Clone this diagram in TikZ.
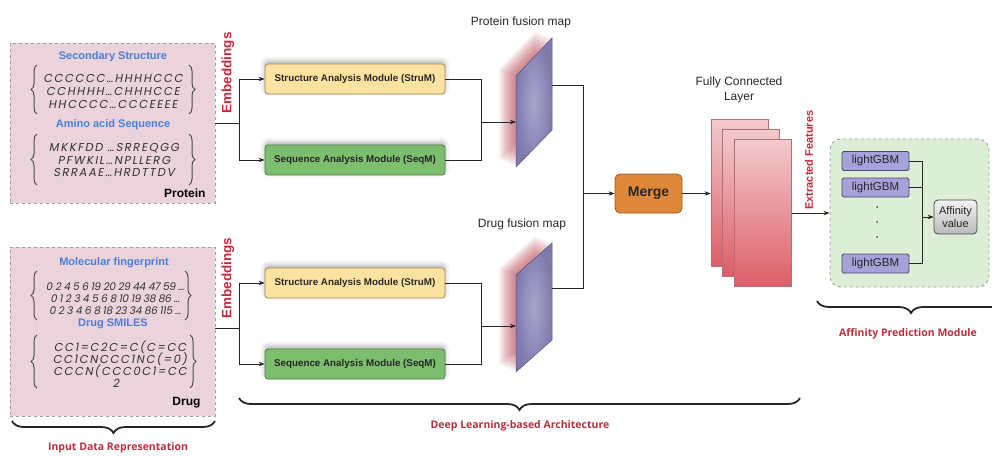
\documentclass[tikz,border=0pt]{standalone}
\usepackage{fontspec}
\setmainfont{Liberation Sans}
\newfontfamily\osans{Open Sans}
\newfontfamily\seqA[FakeSlant=0.18,LetterSpace=14]{Poppins}
\newfontfamily\seqB[FakeSlant=0.18,LetterSpace=-3]{Poppins}
\usetikzlibrary{arrows.meta,decorations.pathreplacing,shadows.blur}
\definecolor{inpink}{HTML}{EAD3DB}
\definecolor{blueT}{HTML}{4A80D6}
\definecolor{redT}{HTML}{C8283A}
\definecolor{redL}{HTML}{B8303C}
\definecolor{yelF}{HTML}{FBE2A0}
\definecolor{yelD}{HTML}{9C8A5A}
\definecolor{grnF}{HTML}{7DBE6E}
\definecolor{grnD}{HTML}{4E7F48}
\definecolor{mrgF}{HTML}{E0883A}
\definecolor{mrgD}{HTML}{9A5A22}
\definecolor{mapIn}{HTML}{A9A5CC}
\definecolor{mapOut}{HTML}{7F7AAE}
\definecolor{glowR}{HTML}{B03040}
\definecolor{fcTop}{HTML}{F2CACD}
\definecolor{fcBot}{HTML}{DC5E68}
\definecolor{fcD}{HTML}{B07078}
\definecolor{lgF}{HTML}{A7A1D9}
\definecolor{lgD}{HTML}{4A4A6E}
\definecolor{gbF}{HTML}{DDEED6}
\begin{document}
\begin{tikzpicture}[x=1pt,y=-1pt,
  inbox/.style={draw=gray!75, dashed, fill=inpink, line width=0.9pt, inner sep=0pt},
  modbox/.style={rounded corners=3pt, line width=0.8pt, minimum width=180pt, minimum height=30pt,
     font=\fontsize{9.8}{11}\selectfont\bfseries, text=black!85,
     blur shadow={shadow xshift=0pt, shadow yshift=3pt, shadow blur radius=5pt, shadow opacity=30}},
  strum/.style={modbox, draw=yelD, fill=yelF},
  seqm/.style={modbox, draw=grnD, fill=grnF},
  conn/.style={line width=0.9pt, black!85},
  arr/.style={conn, -{Stealth[length=6pt,width=4.5pt]}},
  bhead/.style={text=blueT, font=\fontsize{11}{13}\selectfont\bfseries},
  seqtxt/.style={font=\fontsize{11.5}{13}\selectfont\seqA, text=black!80},
  fptxt/.style={font=\fontsize{10.5}{12}\selectfont\seqB, text=black!80},
  emb/.style={rotate=90, text=redT, font=\fontsize{13.5}{15}\selectfont\bfseries},
  brlabel/.style={text=redL, font=\fontsize{10.5}{12}\selectfont\osans\bfseries},
  bigbrace/.style={decorate, decoration={brace, amplitude=12pt}, line width=1.8pt, black!85},
  smbrace/.style={decorate, decoration={brace, amplitude=6pt}, line width=1pt, black!70},
  fcl/.style={draw=fcD, line width=0.7pt, top color=fcTop, bottom color=fcBot, minimum width=57pt, minimum height=147pt},
  lgb/.style={draw=lgD, fill=lgF, rounded corners=1.5pt, line width=0.8pt, minimum width=67pt, minimum height=19pt, font=\fontsize{11.5}{12}\selectfont, text=black!85},
  maplab/.style={font=\fontsize{12}{14}\selectfont, text=black!85}
]
\useasboundingbox (0,0) rectangle (992,455);

% ---------------- input boxes ----------------
\node[inbox, minimum width=205pt, minimum height=160pt] (prot) at (112.5,123) {};
\node[inbox, minimum width=205pt, minimum height=169pt] (drug) at (112.5,331.5) {};

\node[bhead] (ss) at (113,57) {Secondary Structure};
\node[seqtxt] (p1) at (113,78) {CCCCCC…HHHHCCC};
\node[seqtxt] (p2) at (113,91) {CCHHHH…CHHHCCE};
\node[seqtxt] (p3) at (113,104) {HHCCCC…CCCEEEE};
\draw[smbrace] (37,114) -- (37,65);
\draw[smbrace] (189,65) -- (189,114);
\node[bhead] (aa) at (113,125) {Amino acid Sequence};
\node[seqtxt] (p4) at (114,148) {MKKFDD …SRREQGG};
\node[seqtxt] (p5) at (114,160) {PFWKIL…NPLLERG};
\node[seqtxt] (p6) at (114,172) {SRRAAE…HRDTTDV};
\draw[smbrace] (37,185) -- (37,134);
\draw[smbrace] (189,134) -- (189,185);
\node[font=\fontsize{12}{14}\selectfont\bfseries, anchor=east] (plab) at (209,193) {Protein};

\node[bhead] (mf) at (114,263) {Molecular fingerprint};
\node[fptxt] (d1) at (115,287) {0 2 4 5 6 19 20 29 44 47 59 …};
\node[fptxt] (d2) at (115,299) {0 1 2 3 4 5 6 8 10 19 38 86 …};
\node[fptxt] (d3) at (115,311) {0 2 3 4 6 8 18 23 34 86 115 …};
\draw[smbrace] (37,320) -- (37,271);
\draw[smbrace] (185,271) -- (185,320);
\node[bhead] (sm) at (113,324) {Drug SMILES};
\node[seqtxt] (d4) at (120,347) {CC1=C2C=C(C=CC};
\node[seqtxt] (d5) at (120,359) {CC1CNCCC1NC(=0)};
\node[seqtxt] (d6) at (120,371) {CCCN(CCC0C1=CC};
\node[seqtxt] (d7) at (116,383) {2};
\draw[smbrace] (37,388) -- (37,335);
\draw[smbrace] (190,335) -- (190,388);
\node[font=\fontsize{12}{14}\selectfont\bfseries, anchor=east] (dlab) at (204,403) {Drug};

\node[emb] (emb1) at (228,73) {Embeddings};
\node[emb] (emb2) at (228,278) {Embeddings};

% ---------------- modules ----------------
\node[strum] (s1) at (355,79) {Structure Analysis Module (StruM)};
\node[seqm]  (q1) at (355,160) {Sequence Analysis Module (SeqM)};
\node[strum] (s2) at (355,283) {Structure Analysis Module (StruM)};
\node[seqm]  (q2) at (355,364) {Sequence Analysis Module (SeqM)};

\coordinate (pf) at (239,123);
\coordinate (df) at (239,328);
\draw[conn] (prot.east) -- (pf);
\draw[arr] (pf) |- (s1.west);
\draw[arr] (pf) |- (q1.west);
\draw[conn] (drug.east |- df) -- (df);
\draw[arr] (df) |- (s2.west);
\draw[arr] (df) |- (q2.west);

% ---------------- fusion maps ----------------
\foreach \i in {1,...,14}{
  \fill[glowR, opacity=0.06, xshift=-1.2*\i pt, yshift=0.5*\i pt]
     (516,76) -- (552,38) -- (552,130) -- (516,167) -- cycle;
  \fill[glowR, opacity=0.06, xshift=-1.2*\i pt, yshift=0.5*\i pt]
     (516,275) -- (552,243) -- (552,340) -- (516,372) -- cycle;
}
\shade[inner color=mapIn, outer color=mapOut, draw=mapOut!70!black, line width=0.5pt]
   (516,76) -- (552,38) -- (552,130) -- (516,167) -- cycle;
\shade[inner color=mapIn, outer color=mapOut, draw=mapOut!70!black, line width=0.5pt]
   (516,275) -- (552,243) -- (552,340) -- (516,372) -- cycle;
\coordinate (pmW) at (516,122);
\coordinate (pmE) at (552,85);
\coordinate (dmW) at (516,326);
\coordinate (dmE) at (552,288);
\node[maplab] (pml) at (521,22) {Protein fusion map};
\node[maplab] (dml) at (522,224) {Drug fusion map};

\coordinate (pj) at (481,122);
\coordinate (dj) at (481,326);
\draw[conn] (s1.east) -| (pj);
\draw[conn] (q1.east) -| (pj);
\draw[arr] (pj) -- (pmW);
\draw[conn] (s2.east) -| (dj);
\draw[conn] (q2.east) -| (dj);
\draw[arr] (dj) -- (dmW);

% ---------------- merge ----------------
\node[draw=mrgD, fill=mrgF, rounded corners=5pt, line width=0.8pt, minimum width=67pt, minimum height=39pt,
      font=\fontsize{14}{16}\selectfont\bfseries, text=black!85] (merge) at (648.5,193.5) {Merge};
\coordinate (mj) at (583,193.5);
\draw[conn] (pmE) -| (mj);
\draw[conn] (dmE) -| (mj);
\draw[arr] (mj) -- (merge.west);

% ---------------- fully connected ----------------
\node[fcl] (fc1) at (739.5,192.5) {};
\node[fcl] (fc2) at (750.5,202.5) {};
\node[fcl] (fc3) at (763,213) {};
\node[maplab, align=center, font=\fontsize{12}{15}\selectfont] (fcl) at (739,90) {Fully Connected\\Layer};
\draw[arr] (merge.east) -- (fc1.west |- merge.east);
\node[rotate=90, text=redT, font=\fontsize{11}{13}\selectfont\bfseries] (ext) at (809,160) {Extracted Features};

% ---------------- affinity prediction ----------------
\node[draw=gray!75, dashed, fill=gbF, rounded corners=11pt, line width=0.9pt,
      minimum width=159pt, minimum height=148pt] (gbox) at (909.5,213) {};
\draw[arr] (fc3.east) -- (gbox.west);
\node[lgb] (lg1) at (875.5,161) {lightGBM};
\node[lgb] (lg2) at (875.5,187.5) {lightGBM};
\node[lgb] (lg3) at (875.5,263.5) {lightGBM};
\foreach \yy in {207,222,237}{\fill[black!70] (877,\yy) circle (1pt);}
\node[draw=black!70, rounded corners=4pt, line width=0.8pt, top color=gray!10, bottom color=gray!55,
      minimum width=43pt, minimum height=34pt, align=center, inner sep=1pt,
      font=\fontsize{11}{12.5}\selectfont, text=black!85] (aff) at (955.5,217) {Affinity\\value};
\coordinate (aj) at (922,217);
\draw[conn] (lg1.east) -| (aj);
\draw[conn] (lg2.east) -| (aj);
\draw[conn] (lg3.east) -| (aj);
\draw[arr] (aj) -- (aff.west);

% ---------------- braces ----------------
\draw[bigbrace] (215,421) -- (12,421);
\node[brlabel] (inl) at (118,448) {Input Data Representation};
\draw[bigbrace] (800,398) -- (239,398);
\node[brlabel] (dll) at (520,426) {Deep Learning-based Architecture};
\draw[bigbrace] (1005,301) -- (817,301);
\node[brlabel] (apl) at (908,334) {Affinity Prediction Module};
\end{tikzpicture}
\end{document}
